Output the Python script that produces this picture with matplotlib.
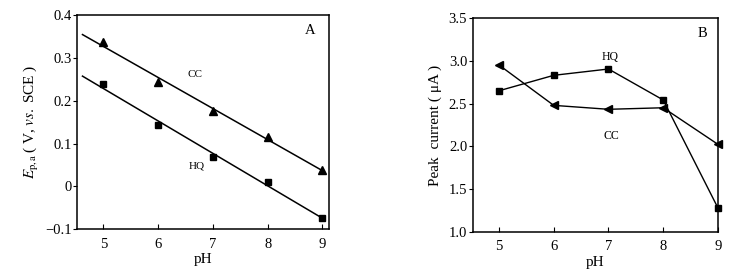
import numpy as np
import matplotlib
matplotlib.use("Agg")
import matplotlib.pyplot as plt

ph = [5, 6, 7, 8, 9]
# Panel A: peak potentials (V vs SCE)
cc_ep = [0.336, 0.244, 0.176, 0.115, 0.038]
hq_ep = [0.238, 0.143, 0.069, 0.010, -0.074]
# Panel B: peak currents (uA)
hq_ip = [2.651, 2.832, 2.906, 2.543, 1.277]
cc_ip = [2.953, 2.480, 2.434, 2.452, 2.023]

plt.rcParams['font.family'] = ['Liberation Serif', 'DejaVu Serif']
plt.rcParams['mathtext.fontset'] = 'stix'
fs_tick = 10.5
fs_lab = 11

fig = plt.figure(figsize=(7.46, 2.79), dpi=100)
W, H = 746, 279
axA = fig.add_axes([77 / W, 1 - 229.3 / H, (329 - 77) / W, (229.3 - 15) / H])
axB = fig.add_axes([472.7 / W, 1 - 231.7 / H, (718 - 472.7) / W, (231.7 - 18.3) / H])

fit_x = np.array([4.62, 9.0])
for y, mk in [(cc_ep, '^'), (hq_ep, 's')]:
    p = np.polyfit(ph, y, 1)
    axA.plot(fit_x, np.polyval(p, fit_x), color='black', lw=1.1)
    axA.plot(ph, y, linestyle='none', marker=mk, color='black', ms=6 if mk == '^' else 5,
             clip_on=False)

axA.set_xlim(4.52, 9.12)
axA.set_ylim(-0.1, 0.4)
axA.set_yticks([-0.1, 0, 0.1, 0.2, 0.3, 0.4])
axA.set_yticklabels(['\u22120.1', '0', '0.1', '0.2', '0.3', '0.4'])
axA.set_xticks(ph)
axA.set_xlabel('pH', fontsize=fs_lab, labelpad=2)
axA.set_ylabel(r'$E_{\rm p,a}$' + r'$\,$( V, $vs.$ SCE )', fontsize=fs_lab, labelpad=3)
axA.text(6.68, 0.262, 'CC', fontsize=8, ha='center', va='center')
axA.text(6.71, 0.048, 'HQ', fontsize=8, ha='center', va='center')
axA.text(0.925, 0.93, 'A', transform=axA.transAxes, fontsize=10.5, ha='center', va='center')

axB.plot(ph, hq_ip, color='black', lw=1.0, marker='s', ms=5, clip_on=False)
axB.plot(ph, cc_ip, color='black', lw=1.0, marker='<', ms=6, clip_on=False)
axB.set_xlim(4.52, 9.0)
axB.set_ylim(1.0, 3.5)
axB.set_xticks(ph)
axB.set_yticks([1.0, 1.5, 2.0, 2.5, 3.0, 3.5])
axB.set_yticklabels(['1.0', '1.5', '2.0', '2.5', '3.0', '3.5'])
axB.set_xlabel('pH', fontsize=fs_lab, labelpad=2)
axB.set_ylabel('Peak  current ( \u03bcA )', fontsize=fs_lab, labelpad=5)
axB.text(7.03, 3.043, 'HQ', fontsize=8.5, ha='center', va='center')
axB.text(7.06, 2.12, 'CC', fontsize=8.5, ha='center', va='center')
axB.text(0.935, 0.93, 'B', transform=axB.transAxes, fontsize=10.5, ha='center', va='center')

for ax in (axA, axB):
    for s in ax.spines.values():
        s.set_linewidth(1.1)
    ax.tick_params(axis='x', direction='in', length=3.5, width=0.8, labelsize=fs_tick, pad=6)
    ax.tick_params(axis='y', direction='out', length=3, width=0.8, labelsize=fs_tick, pad=1)

fig.savefig('out.png', dpi=100)
